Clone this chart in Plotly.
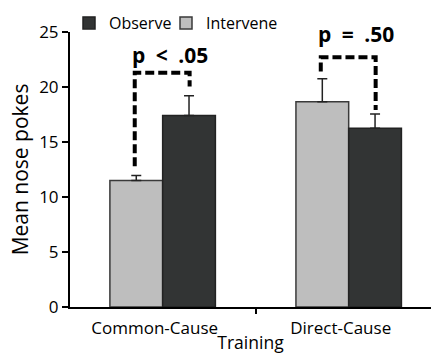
import plotly.graph_objects as go

categories = ["Common-Cause", "Direct-Cause"]
intervene = [11.5, 18.65]
intervene_err = [0.45, 2.1]
observe = [17.4, 16.25]
observe_err = [1.8, 1.3]

# significance brackets (data units)
bracket_top = [21.3, 22.7]
bracket_left_bottom = [12.8, 21.4]
bracket_right_bottom = [20.05, 17.9]
p_labels = ["p\u2002&lt;\u2002.05", "p\u2002=\u2002.50"]
p_label_y = [22.95, 24.85]

y_ticks = [0, 5, 10, 15, 20, 25]

FONT = "Open Sans"
xpos = list(range(len(categories)))

fig = go.Figure()
fig.add_trace(go.Bar(
    x=xpos, y=intervene, name="Intervene", legend="legend2",
    marker=dict(color="#BEBEBE", line=dict(color="#3a3a3a", width=1.5)),
    error_y=dict(type="data", symmetric=False, array=intervene_err,
                 arrayminus=[0] * len(intervene_err), color="#222", thickness=1.5, width=5),
))
fig.add_trace(go.Bar(
    x=xpos, y=observe, name="Observe", legend="legend",
    marker=dict(color="#323434", line=dict(color="#222", width=1.5)),
    error_y=dict(type="data", symmetric=False, array=observe_err,
                 arrayminus=[0] * len(observe_err), color="#222", thickness=1.5, width=5),
))

for i, c in enumerate(categories):
    xl, xr = i - 0.15, i + 0.145
    fig.add_trace(go.Scatter(
        x=[xl, xl, xr, xr],
        y=[bracket_left_bottom[i], bracket_top[i], bracket_top[i], bracket_right_bottom[i]],
        mode="lines", line=dict(color="black", width=4, dash="9px,4px"),
        showlegend=False, hoverinfo="skip",
    ))
    fig.add_annotation(x=i + 0.04, y=p_label_y[i], text=p_labels[i], showarrow=False,
                       font=dict(family=FONT, size=21, color="black", weight=700))

legend_common = dict(orientation="h", xref="container", yref="container",
                     y=1 - 23 / 354, xanchor="left", yanchor="middle",
                     font=dict(size=16), bgcolor="rgba(0,0,0,0)")

fig.update_layout(
    width=431, height=354,
    margin=dict(l=70, r=0, t=32, b=47, autoexpand=False),
    plot_bgcolor="white", paper_bgcolor="white",
    barmode="group", bargap=0.433, bargroupgap=0,
    font=dict(family=FONT, color="black", size=16),
    legend=dict(x=69 / 431, **legend_common),
    legend2=dict(x=166 / 431, **legend_common),
    xaxis=dict(range=[-0.498, 1.4425], tickvals=xpos, ticktext=categories, ticks="",
               showline=True, linecolor="black", linewidth=2, showgrid=False, zeroline=False,
               tickfont=dict(size=17), ticklabelshift=-8, ticklabelstandoff=5,
               minor=dict(tick0=0.5, dtick=1, ticks="outside", ticklen=5, tickwidth=2, tickcolor="black"),
               title=dict(text="Training", font=dict(size=17.5), standoff=3)),
    yaxis=dict(range=[0, 25], tickvals=y_ticks, ticks="outside", ticklen=6, tickwidth=2,
               tickcolor="black", showline=True, linecolor="black", linewidth=2,
               showgrid=False, zeroline=False, tickfont=dict(size=17),
               title=dict(text="Mean nose pokes", font=dict(size=21), standoff=5)),
)

fig.write_html("out.html", post_script="document.body.style.margin='0';",
               config={"displayModeBar": False})
